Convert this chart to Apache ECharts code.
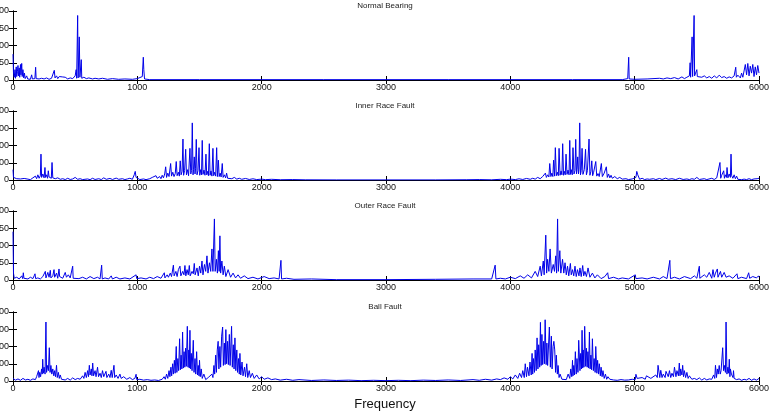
<!DOCTYPE html>
<html>
<head>
<meta charset="utf-8">
<script src="https://cdn.jsdelivr.net/npm/echarts@6/dist/echarts.min.js"></script>
<style>
  html, body { margin: 0; padding: 0; background: #fff; }
  #chart { width: 770px; height: 416px; }
</style>
</head>
<body>
<div id="chart"></div>
<script>
// panel titles and axis ranges
var titles = ["Normal Bearing", "Inner Race Fault", "Outer Race Fault", "Ball Fault"];
var yMax = [200, 800, 200, 400];
var yStep = [50, 200, 50, 100];
var xTicks = [0, 1000, 2000, 3000, 4000, 5000, 6000];

// spectra, [frequency, amplitude]
var normalBearing = [
  [0,75],[4,20],[10,8],[16,30],[20,5],[26,38],[30,10],[36,25],[40,42],[44,12],[50,35],[54,8],[60,45],[64,15],[70,48],[74,10],[80,30],[86,6],[92,20],[98,4],[110,12],[118,3],[130,8],[140,2],[150,15],[156,3],[170,6],[176,4],[182,37],[186,4],[200,8],[210,3],[230,5],[250,3],[270,6],[290,2],[310,5],[326,3],[332,28],[338,6],[350,12],[360,4],[372,10],[380,5],[396,9],[410,4],[420,8],[440,3],[460,6],[480,4],[500,12],[508,30],[512,5],[520,187],[524,6],[533,125],[538,8],[549,59],[553,5],[570,8],[590,4],[610,6],[640,3],[660,5],[690,3],[720,5],[760,2],[800,4],[850,2],[900,3],[960,2],[1000,4],[1040,10],[1048,66],[1052,30],[1058,3],[1100,1],[1500,1],[2000,1],[2500,1],[3000,1],
  [3500,1],[4000,1],[4500,1],[4900,1],[4944,4],[4952,66],[4956,3],[5000,2],[5100,3],[5200,5],[5230,3],[5260,6],[5290,4],[5320,7],[5350,3],[5380,9],[5400,4],[5420,8],[5440,12],[5446,50],[5450,8],[5462,125],[5466,10],[5478,187],[5482,12],[5490,20],[5500,30],[5504,10],[5520,15],[5540,8],[5560,12],[5580,6],[5600,10],[5620,5],[5640,12],[5660,6],[5680,14],[5700,7],[5720,10],[5740,5],[5760,9],[5780,6],[5800,12],[5813,37],[5818,8],[5830,14],[5850,6],[5860,20],[5870,8],[5880,12],[5890,45],[5900,15],[5910,48],[5920,12],[5930,40],[5940,20],[5950,45],[5960,10],[5970,38],[5980,15],[5990,42],[6000,20]
];

var innerRace = [
  [0,120],[4,30],[10,8],[30,15],[40,3],[60,12],[70,4],[90,18],[100,5],[120,10],[140,4],[160,25],[170,8],[180,45],[190,15],[200,60],[210,20],[220,50],[225,300],[230,30],[240,70],[250,25],[257,145],[262,30],[270,60],[278,20],[284,107],[290,35],[300,55],[308,20],[314,203],[320,25],[330,40],[340,15],[360,25],[380,8],[400,15],[420,5],[440,20],[460,6],[480,12],[500,30],[520,8],[540,15],[560,5],[600,12],[620,4],[640,20],[660,6],[690,15],[710,5],[730,25],[750,8],[780,18],[800,6],[830,22],[850,8],[880,15],[900,5],[920,12],[940,20],[960,8],[975,60],[983,100],[990,30],[1000,15],[1020,5],[1050,12],[1070,4],[1100,15],[1120,30],[1130,10],[1150,50],[1160,20],[1180,40],[1190,15],[1200,55],[1210,25],[1220,70],[1228,153],[1235,30],[1245,80],[1255,40],[1268,191],[1275,45],[1285,90],[1295,40],[1305,75],[1313,214],[1320,50],[1330,90],[1338,45],[1345,222],[1352,60],[1360,100],[1367,475],[1372,55],[1380,110],[1389,356],[1395,60],[1405,120],[1412,50],[1423,367],[1430,70],[1436,110],[1442,662],[1448,60],[1452,120],[1458,268],[1464,70],[1468,130],[1474,471],[1480,60],[1488,110],[1496,375],[1502,55],[1510,120],[1516,60],[1522,459],[1528,65],[1536,115],[1544,55],[1552,300],[1558,60],[1565,100],[1572,50],[1579,421],[1585,55],[1592,105],[1600,45],[1608,367],[1614,50],[1622,90],[1630,45],[1638,375],[1644,40],[1652,230],[1658,40],[1666,80],[1674,35],[1683,191],[1690,30],[1700,60],[1710,25],[1718,80],[1726,20],[1740,40],[1760,15],[1780,30],[1800,10],[1820,20],[1840,8],[1870,18],[1900,6],[1930,14],[1960,5],[2000,10],[2030,4],[2080,8],[2150,3],[2250,5],[2350,2],[2600,1],[3000,1],
  [3400,1],[3650,3],[3750,5],[3850,2],[3920,8],[3970,4],[4000,10],[4040,5],[4070,14],[4100,6],[4130,18],[4160,8],[4180,20],[4200,10],[4220,30],[4240,15],[4260,40],[4274,25],[4282,80],[4290,30],[4300,60],[4310,35],[4317,191],[4326,40],[4334,80],[4342,40],[4348,230],[4356,45],[4362,375],[4370,50],[4378,90],[4386,50],[4392,367],[4400,55],[4408,105],[4415,60],[4421,421],[4428,55],[4435,100],[4442,60],[4448,300],[4456,65],[4464,115],[4472,60],[4478,459],[4484,65],[4490,120],[4498,60],[4504,375],[4512,70],[4520,110],[4526,471],[4532,70],[4536,120],[4542,268],[4548,70],[4552,120],[4558,662],[4564,60],[4570,110],[4577,367],[4584,65],[4595,120],[4605,356],[4612,60],[4620,110],[4633,475],[4640,55],[4648,100],[4655,222],[4662,50],[4670,90],[4687,214],[4695,45],[4705,75],[4715,40],[4732,191],[4740,40],[4755,80],[4772,153],[4780,30],[4790,70],[4800,25],[4810,55],[4820,20],[4840,40],[4860,15],[4880,30],[4900,10],[4930,15],[4950,5],[4980,12],[5010,30],[5017,100],[5025,60],[5040,8],[5060,20],[5080,5],[5100,12],[5120,8],[5150,15],[5170,5],[5200,18],[5220,6],[5250,22],[5270,8],[5300,15],[5330,5],[5360,20],[5390,6],[5420,12],[5440,5],[5460,15],[5480,8],[5500,30],[5520,6],[5560,15],[5580,5],[5620,20],[5640,6],[5660,25],[5670,15],[5686,203],[5692,20],[5700,55],[5710,35],[5716,107],[5722,20],[5730,60],[5738,30],[5743,145],[5750,25],[5760,70],[5770,30],[5775,300],[5780,50],[5790,20],[5800,60],[5810,15],[5820,45],[5830,8],[5840,25],[5860,4],[5880,10],[5900,5],[5920,15],[5940,4],[5960,12],[5970,3],[5985,15],[5996,10],[6000,20]
];

var outerRace = [
  [0,140],[4,20],[10,5],[30,8],[50,3],[70,12],[78,4],[83,21],[88,5],[100,10],[120,3],[140,8],[160,4],[170,12],[177,18],[182,4],[200,6],[220,3],[240,10],[260,25],[265,6],[280,22],[290,8],[300,28],[305,6],[320,12],[330,30],[335,8],[350,20],[360,5],[370,32],[375,10],[390,15],[400,5],[420,22],[430,8],[445,15],[460,6],[480,40],[484,5],[500,10],[530,4],[560,8],[590,3],[620,10],[650,4],[680,8],[700,3],[713,43],[718,3],[740,6],[770,3],[790,12],[800,3],[830,8],[860,3],[900,6],[940,3],[990,15],[995,4],[1030,6],[1070,3],[1100,8],[1130,4],[1160,10],[1190,5],[1217,21],[1222,6],[1240,15],[1250,8],[1265,20],[1275,10],[1290,43],[1296,12],[1310,25],[1320,10],[1330,30],[1343,40],[1350,12],[1365,25],[1375,15],[1383,42],[1390,12],[1400,30],[1410,15],[1418,42],[1425,12],[1440,25],[1450,18],[1458,48],[1465,15],[1480,35],[1490,12],[1500,40],[1510,20],[1520,55],[1528,15],[1540,45],[1550,25],[1560,70],[1568,20],[1580,50],[1590,25],[1600,90],[1608,25],[1620,177],[1626,25],[1636,60],[1644,20],[1652,85],[1658,25],[1664,128],[1670,20],[1680,55],[1690,15],[1700,40],[1712,10],[1730,30],[1750,8],[1770,20],[1790,6],[1810,15],[1830,5],[1860,12],[1890,4],[1930,8],[1970,3],[2020,10],[2060,4],[2100,6],[2140,3],[2155,57],[2160,3],[2200,5],[2260,2],[2400,3],[2600,1],[3000,1],
  [3400,2],[3700,3],[3850,3],[3878,43],[3884,3],[3920,5],[3960,3],[4000,8],[4040,4],[4080,12],[4110,5],[4140,15],[4170,6],[4200,25],[4220,10],[4240,40],[4250,12],[4265,55],[4272,15],[4285,130],[4292,20],[4300,60],[4310,25],[4320,90],[4330,20],[4345,45],[4355,25],[4365,70],[4372,20],[4380,177],[4386,25],[4398,85],[4406,20],[4420,60],[4430,20],[4440,50],[4450,15],[4460,40],[4470,12],[4483,48],[4490,15],[4500,30],[4510,12],[4520,40],[4530,10],[4540,30],[4552,12],[4560,35],[4570,10],[4582,42],[4590,12],[4600,25],[4612,10],[4625,35],[4640,8],[4660,20],[4680,6],[4700,15],[4730,4],[4760,10],[4783,21],[4790,4],[4830,8],[4870,3],[4900,6],[4950,3],[5005,15],[5010,4],[5060,6],[5100,3],[5150,8],[5200,3],[5230,10],[5260,4],[5283,57],[5288,4],[5320,8],[5360,3],[5400,10],[5450,4],[5480,12],[5500,5],[5520,40],[5524,5],[5560,15],[5580,8],[5600,22],[5620,5],[5630,30],[5640,8],[5650,20],[5665,32],[5670,8],[5690,25],[5700,8],[5720,22],[5735,8],[5760,12],[5790,5],[5823,18],[5830,4],[5860,8],[5900,4],[5917,21],[5925,5],[5950,10],[5980,6],[5996,12],[6000,8]
];

var ballFault = [
  [0,15],[20,5],[40,12],[60,4],[80,15],[100,6],[120,10],[140,4],[160,12],[180,8],[190,25],[200,15],[205,60],[209,20],[215,50],[222,25],[230,70],[235,40],[239,126],[244,45],[250,80],[258,40],[265,342],[270,50],[278,90],[285,60],[292,193],[298,50],[305,90],[312,40],[320,70],[328,30],[335,60],[342,25],[350,91],[356,20],[365,50],[372,15],[380,35],[390,10],[400,20],[420,6],[440,15],[460,5],[480,18],[500,8],[520,15],[540,10],[560,30],[570,15],[580,50],[590,20],[600,60],[607,25],[614,91],[620,35],[630,70],[635,30],[641,104],[648,30],[660,60],[668,25],[680,80],[688,25],[700,45],[710,20],[720,60],[730,25],[748,56],[755,20],[770,40],[780,20],[790,62],[798,20],[812,91],[818,20],[830,35],[845,15],[860,40],[870,15],[890,25],[905,30],[915,10],[940,20],[960,8],[980,15],[990,39],[995,8],[1020,10],[1050,5],[1080,8],[1110,4],[1140,6],[1170,3],[1200,10],[1215,25],[1225,10],[1235,40],[1245,15],[1255,60],[1262,25],[1270,80],[1276,30],[1284,100],[1290,40],[1298,120],[1304,45],[1313,200],[1318,50],[1326,130],[1332,60],[1340,245],[1346,65],[1352,150],[1358,70],[1364,284],[1370,75],[1376,170],[1382,80],[1388,190],[1394,85],[1402,317],[1408,80],[1414,180],[1418,75],[1423,294],[1428,70],[1434,160],[1440,60],[1450,236],[1456,50],[1464,130],[1470,40],[1477,170],[1484,35],[1490,90],[1496,30],[1500,120],[1506,25],[1514,70],[1522,15],[1535,40],[1550,8],[1570,20],[1585,10],[1600,40],[1608,20],[1616,90],[1622,40],[1630,150],[1636,50],[1643,180],[1650,230],[1656,70],[1664,200],[1670,80],[1678,260],[1686,313],[1692,90],[1700,220],[1706,95],[1712,298],[1718,100],[1726,230],[1732,95],[1740,270],[1746,90],[1758,317],[1764,80],[1772,210],[1778,70],[1785,250],[1792,60],[1800,180],[1806,50],[1814,130],[1820,40],[1825,160],[1832,35],[1842,110],[1850,30],[1862,80],[1870,25],[1880,100],[1888,20],[1900,60],[1910,20],[1925,45],[1940,15],[1960,35],[1980,12],[2000,25],[2020,10],[2050,18],[2080,8],[2110,12],[2150,5],[2200,10],[2250,4],[2300,8],[2400,3],[2500,6],[2600,3],[2700,5],[2800,2],[2900,4],[3000,2],
  [3100,4],[3200,2],[3300,5],[3400,3],[3500,6],[3600,3],[3700,8],[3750,4],[3800,10],[3850,5],[3890,12],[3920,8],[3950,18],[3980,10],[4000,25],[4020,12],[4040,35],[4060,15],[4075,45],[4090,20],[4100,60],[4112,20],[4120,100],[4130,25],[4138,80],[4150,30],[4158,110],[4168,35],[4175,160],[4180,40],[4186,130],[4194,50],[4200,180],[4208,60],[4215,250],[4222,70],[4228,210],[4236,80],[4242,340],[4248,90],[4254,270],[4260,95],[4268,230],[4274,100],[4280,355],[4288,95],[4294,220],[4300,90],[4314,313],[4322,80],[4330,260],[4336,70],[4344,200],[4350,230],[4357,180],[4364,50],[4370,150],[4378,40],[4384,90],[4392,20],[4400,40],[4415,10],[4430,20],[4450,8],[4465,40],[4478,15],[4486,70],[4494,25],[4500,120],[4504,30],[4510,90],[4516,35],[4523,170],[4530,40],[4536,130],[4544,50],[4550,236],[4560,60],[4566,160],[4572,70],[4577,294],[4582,75],[4586,180],[4592,80],[4598,317],[4606,85],[4612,190],[4618,80],[4624,170],[4630,75],[4636,284],[4642,70],[4648,150],[4654,65],[4660,245],[4668,60],[4674,130],[4682,50],[4687,200],[4696,45],[4702,120],[4710,40],[4716,100],[4724,30],[4730,80],[4738,25],[4745,60],[4755,15],[4765,40],[4775,10],[4785,25],[4800,10],[4830,6],[4860,4],[4890,8],[4920,5],[4950,6],[4980,10],[5005,8],[5010,39],[5020,15],[5060,20],[5085,10],[5095,30],[5110,40],[5130,15],[5140,25],[5170,35],[5182,20],[5188,91],[5202,20],[5210,62],[5220,20],[5230,40],[5245,20],[5252,56],[5270,25],[5280,60],[5290,20],[5300,45],[5312,25],[5320,80],[5332,25],[5340,60],[5352,30],[5359,104],[5365,30],[5370,70],[5380,35],[5386,91],[5393,25],[5400,60],[5410,20],[5420,50],[5430,15],[5440,30],[5460,10],[5480,15],[5500,8],[5520,18],[5540,5],[5560,15],[5580,6],[5600,12],[5610,20],[5620,10],[5635,35],[5644,15],[5650,91],[5658,20],[5665,70],[5672,40],[5680,90],[5688,40],[5695,60],[5702,50],[5708,193],[5715,60],[5722,90],[5730,50],[5735,342],[5742,40],[5750,80],[5756,45],[5761,126],[5766,25],[5770,70],[5778,40],[5785,50],[5791,20],[5795,60],[5800,15],[5810,25],[5820,8],[5840,12],[5860,4],[5880,10],[5900,6],[5920,15],[5940,4],[5960,12],[5980,5],[5995,10],[6000,15]
];

var spectra = [normalBearing, innerRace, outerRace, ballFault];

var chart = echarts.init(document.getElementById('chart'));
var gridTops = [11, 111, 211, 312];
var grids = [], xAxes = [], yAxes = [], series = [], titleList = [];
var tickStyle = { show: true, inside: true, length: 4, lineStyle: { color: '#000', width: 1 } };
var lineStyleAx = { show: true, lineStyle: { color: '#000', width: 1 } };

for (var i = 0; i < 4; i++) {
  // labels may spill past the left edge, like the original
  grids.push({ left: 13, right: 11, top: gridTops[i], height: 69, outerBoundsMode: 'none', containLabel: false });
  titleList.push({
    text: titles[i], left: 'center', top: gridTops[i] - 14,
    textStyle: { fontSize: 8, fontWeight: 'normal', color: '#222', fontFamily: 'Liberation Sans, Arial' }
  });
  // bottom and top x axes
  xAxes.push({
    type: 'value', gridIndex: i, min: 0, max: 6000, interval: 1000, position: 'bottom',
    axisLine: lineStyleAx, axisTick: tickStyle, splitLine: { show: false },
    axisLabel: {
      fontSize: 9, color: '#111', margin: 3, fontFamily: 'Liberation Sans, Arial',
      formatter: function (v) { return String(v); }
    }
  });
  xAxes.push({
    type: 'value', gridIndex: i, min: 0, max: 6000, interval: 1000, position: 'top',
    axisLine: lineStyleAx, axisTick: tickStyle, splitLine: { show: false }, axisLabel: { show: false }
  });
  // left and right y axes
  yAxes.push({
    type: 'value', gridIndex: i, min: 0, max: yMax[i], interval: yStep[i], position: 'left',
    axisLine: lineStyleAx, axisTick: tickStyle, splitLine: { show: false },
    axisLabel: { fontSize: 9, color: '#111', margin: 4, fontFamily: 'Liberation Sans, Arial' }
  });
  yAxes.push({
    type: 'value', gridIndex: i, min: 0, max: yMax[i], interval: yStep[i], position: 'right',
    axisLine: lineStyleAx, axisTick: tickStyle, splitLine: { show: false }, axisLabel: { show: false }
  });
  series.push({
    type: 'line', xAxisIndex: 2 * i, yAxisIndex: 2 * i, data: spectra[i],
    showSymbol: false, symbol: 'none', sampling: null, clip: true,
    lineStyle: { color: '#0000e8', width: 1 }
  });
}

titleList.push({
  text: 'Frequency', left: 'center', top: 393,
  textStyle: { fontSize: 13, fontWeight: 'normal', color: '#111', fontFamily: 'Liberation Sans, Arial' }
});

chart.setOption({
  animation: false,
  backgroundColor: '#fff',
  title: titleList,
  grid: grids,
  xAxis: xAxes,
  yAxis: yAxes,
  series: series
});
</script>
</body>
</html>
